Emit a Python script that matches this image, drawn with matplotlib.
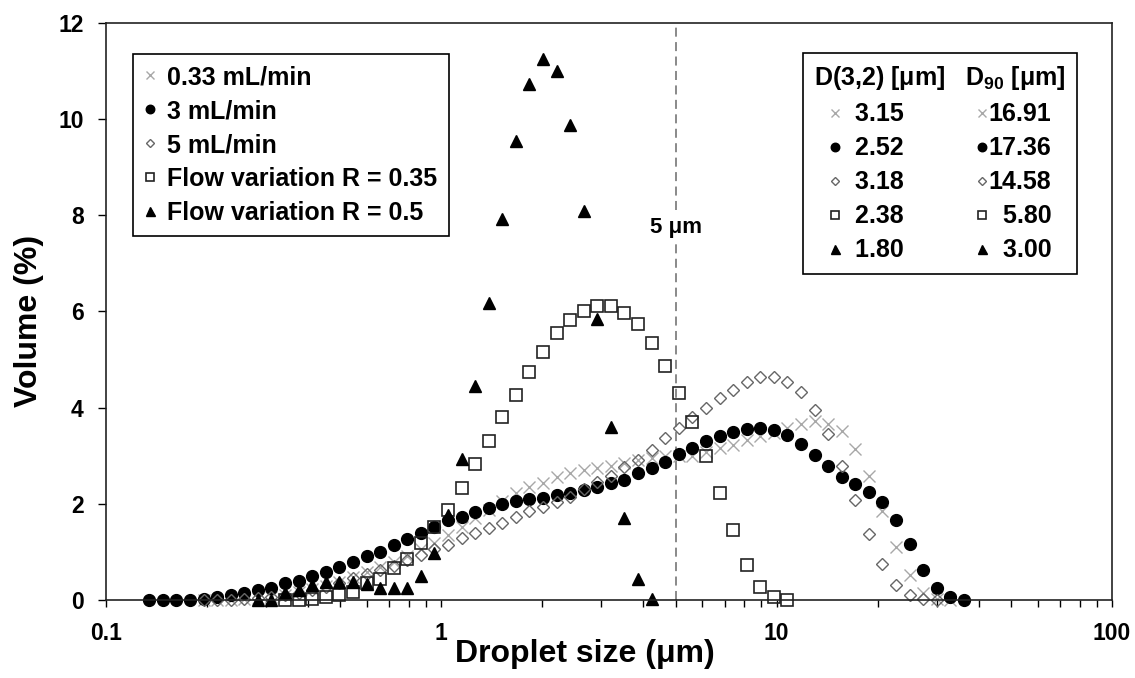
import matplotlib
matplotlib.use("Agg")
import matplotlib.pyplot as plt
from matplotlib.ticker import FixedLocator, FixedFormatter, LogLocator, NullFormatter

plt.rcParams['font.family'] = ['Liberation Sans', 'DejaVu Sans']
plt.rcParams['font.weight'] = 'bold'
plt.rcParams['mathtext.fontset'] = 'custom'
plt.rcParams['mathtext.rm'] = 'Liberation Sans:bold'
plt.rcParams['mathtext.bf'] = 'Liberation Sans:bold'
plt.rcParams['mathtext.default'] = 'rm'

# size classes (um) of the analyser
sizes = [0.1346, 0.1478, 0.1622, 0.1780, 0.1954, 0.2145, 0.2355, 0.2585, 0.2838, 0.3115,
         0.3419, 0.3753, 0.4120, 0.4523, 0.4965, 0.5450, 0.5982, 0.6567, 0.7209, 0.7913,
         0.8686, 0.9535, 1.0467, 1.1490, 1.2612, 1.3845, 1.5198, 1.6683, 1.8313, 2.0102,
         2.2066, 2.4222, 2.6589, 2.9187, 3.2039, 3.5169, 3.8606, 4.2378, 4.6519, 5.1064,
         5.6053, 6.1530, 6.7542, 7.4141, 8.1385, 8.9337, 9.8066, 10.765, 11.817, 12.971,
         14.238, 15.629, 17.156, 18.833, 20.673, 22.693, 24.910, 27.344, 30.016, 32.949,
         36.168]

# volume (%) per series, with index of first size class
start_033 = 4
vol_033 = [0.0, 0.0, 0.01, 0.02, 0.04, 0.07, 0.11, 0.16, 0.22, 0.30, 0.38, 0.48, 0.58, 0.68,
           0.80, 0.92, 1.05, 1.18, 1.35, 1.52, 1.70, 1.88, 2.06, 2.22, 2.34, 2.44, 2.55, 2.63,
           2.70, 2.74, 2.78, 2.84, 2.90, 2.95, 2.99, 3.00, 3.00, 3.08, 3.16, 3.22, 3.32, 3.40,
           3.48, 3.58, 3.66, 3.72, 3.66, 3.52, 3.13, 2.58, 1.84, 1.11, 0.52, 0.15, 0.02, 0.0]

start_3 = 0
vol_3 = [0.0, 0.0, 0.0, 0.0, 0.03, 0.07, 0.10, 0.15, 0.21, 0.24, 0.35, 0.40, 0.49, 0.58,
         0.69, 0.80, 0.91, 1.00, 1.14, 1.26, 1.39, 1.52, 1.66, 1.73, 1.82, 1.92, 1.99, 2.06,
         2.09, 2.13, 2.18, 2.23, 2.29, 2.34, 2.43, 2.49, 2.63, 2.74, 2.86, 3.03, 3.15, 3.30,
         3.40, 3.49, 3.56, 3.57, 3.53, 3.43, 3.24, 3.02, 2.79, 2.56, 2.41, 2.25, 2.04, 1.66,
         1.16, 0.62, 0.24, 0.06, 0.01]

start_5 = 4
vol_5 = [0.0, 0.0, 0.01, 0.02, 0.04, 0.07, 0.10, 0.15, 0.20, 0.28, 0.36, 0.45, 0.55, 0.62,
         0.71, 0.83, 0.94, 1.07, 1.15, 1.28, 1.39, 1.49, 1.61, 1.73, 1.84, 1.94, 2.04, 2.15,
         2.30, 2.46, 2.58, 2.77, 2.91, 3.12, 3.36, 3.57, 3.80, 4.00, 4.19, 4.37, 4.53, 4.63,
         4.63, 4.53, 4.33, 3.95, 3.45, 2.79, 2.08, 1.37, 0.75, 0.31, 0.10, 0.02, 0.0]

start_r035 = 10
vol_r035 = [0.0, 0.01, 0.02, 0.06, 0.10, 0.17, 0.35, 0.43, 0.66, 0.85, 1.18, 1.52, 1.87,
            2.32, 2.82, 3.31, 3.80, 4.27, 4.73, 5.16, 5.54, 5.82, 6.01, 6.11, 6.11, 5.97,
            5.73, 5.35, 4.86, 4.30, 3.69, 3.00, 2.23, 1.45, 0.73, 0.28, 0.06, 0.01]

start_r05 = 8
vol_r05 = [0.0, 0.0, 0.14, 0.21, 0.31, 0.38, 0.38, 0.38, 0.33, 0.24, 0.24, 0.24, 0.49, 0.97,
           1.77, 2.94, 4.45, 6.17, 7.92, 9.55, 10.73, 11.25, 11.0, 9.88, 8.09, 5.84, 3.60,
           1.70, 0.43, 0.03]

labels = ['0.33 mL/min', '3 mL/min', '5 mL/min', 'Flow variation R = 0.35', 'Flow variation R = 0.5']
d32 = [3.15, 2.52, 3.18, 2.38, 1.80]
d90 = [16.91, 17.36, 14.58, 5.80, 3.00]

fig = plt.figure(figsize=(11.35, 6.78), dpi=100)
ax = fig.add_axes([106 / 1135, 78 / 678, 1006 / 1135, 577.3 / 678])

def xs(start, vals):
    return sizes[start:start + len(vals)]

h1, = ax.plot(xs(start_033, vol_033), vol_033, ls='none', marker='x', ms=8.5, mew=1.0,
              color='#a8a8a8', clip_on=False)
h2, = ax.plot(xs(start_3, vol_3), vol_3, ls='none', marker='o', ms=8.5, color='black', clip_on=False)
h3, = ax.plot(xs(start_5, vol_5), vol_5, ls='none', marker='D', ms=6.3, mfc='none',
              mec='#666666', mew=1.0, clip_on=False)
h4, = ax.plot(xs(start_r035, vol_r035), vol_r035, ls='none', marker='s', ms=8.5, mfc='none',
              mec='#222222', mew=1.2, clip_on=False)
h5, = ax.plot(xs(start_r05, vol_r05), vol_r05, ls='none', marker='^', ms=9, color='black',
              clip_on=False)
handles = [h1, h2, h3, h4, h5]

# 5 um marker line
ax.axvline(5, color='#808080', lw=1.3, dashes=(5, 3), zorder=1)
ax.text(5, 7.75, '5 μm', ha='center', va='center', fontsize=16, fontweight='bold',
        bbox=dict(facecolor='white', edgecolor='none', pad=2))

ax.set_xscale('log')
ax.set_xlim(0.1, 100)
ax.set_ylim(0, 12)
ax.xaxis.set_major_locator(FixedLocator([0.1, 1, 10, 100]))
ax.xaxis.set_major_formatter(FixedFormatter(['0.1', '1', '10', '100']))
ax.xaxis.set_minor_locator(LogLocator(base=10, subs=range(2, 10)))
ax.xaxis.set_minor_formatter(NullFormatter())
ax.set_yticks(range(0, 13, 2))

for s in ax.spines.values():
    s.set_linewidth(1.2)
    s.set_color('#222222')

ax.tick_params(axis='y', direction='out', length=6, width=1, pad=10, labelsize=16.5)
ax.tick_params(axis='x', which='both', direction='out', length=5, width=1, pad=11, labelsize=16.5)

ax.set_xlabel('Droplet size (μm)', fontsize=23, fontweight='bold')
ax.set_ylabel('Volume (%)', fontsize=23, fontweight='bold')
ax.xaxis.set_label_coords(0.476, -0.068)
ax.yaxis.set_label_coords(-0.062, 0.483)

leg1 = ax.legend(handles, labels, loc='upper left', bbox_to_anchor=(0.0268, 0.9458),
                 borderaxespad=0, prop={'size': 18, 'weight': 'bold'}, fancybox=False,
                 edgecolor='black', framealpha=1, handlelength=0.5, handletextpad=0.42,
                 labelspacing=0.4, borderpad=0.45, markerscale=0.72)
leg1.get_frame().set_linewidth(1.2)
ax.add_artist(leg1)

lab32 = ['  ' + f'{v:.2f}' for v in d32]
lab90 = [('' if v >= 10 else '  ') + f'{v:.2f}' for v in d90]
leg2 = ax.legend(handles + handles, lab32 + lab90, ncol=2, loc='upper left',
                 bbox_to_anchor=(0.6928, 0.9475), borderaxespad=0,
                 title='D(3,2) [μm]   D$_{90}$ [μm]',
                 title_fontproperties={'size': 18, 'weight': 'bold'},
                 prop={'size': 18, 'weight': 'bold'}, fancybox=False, edgecolor='black',
                 framealpha=1, handlelength=0.5, handletextpad=0.0, columnspacing=2.9,
                 labelspacing=0.4, borderpad=0.45, markerscale=0.72)
leg2.get_frame().set_linewidth(1.2)

fig.savefig('out.png', dpi=100)
